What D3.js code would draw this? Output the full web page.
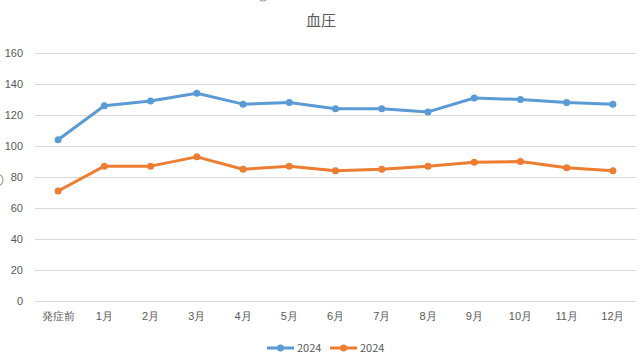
<!DOCTYPE html>
<html lang="ja">
<head>
  <meta charset="UTF-8">
  <title>血圧</title>
  <script src="https://d3js.org/d3.v7.min.js"></script>
  <style>
    body { margin: 0; background: #fff; }
    svg { display: block; font-family: "Noto Sans CJK JP", "Noto Sans", sans-serif; }
    .tick text { fill: #595959; font-size: 11px; }
  </style>
</head>
<body>
  <svg width="642" height="361"></svg>
  <script>
    const width = 642, height = 361;
    const months = ["発症前", "1月", "2月", "3月", "4月", "5月", "6月", "7月", "8月", "9月", "10月", "11月", "12月"];
    const systolic = [104, 126, 129, 134, 127, 128, 124, 124, 122, 131, 130, 128, 127];
    const diastolic = [71, 87, 87, 93, 85, 87, 84, 85, 87, 89.5, 90, 86, 84];
    const yTicks = [0, 20, 40, 60, 80, 100, 120, 140, 160];
    const seriesNames = ["2024", "2024"];
    const colors = ["#5B9BD5", "#ED7D31"];

    const svg = d3.select("svg");
    const margin = { left: 35, right: 6, top: 53, bottom: 60 };

    const x = d3.scaleBand()
      .domain(months)
      .range([margin.left, width - margin.right]);
    const y = d3.scaleLinear()
      .domain([0, 160])
      .range([height - margin.bottom, margin.top]);

    // gridlines
    svg.append("g")
      .selectAll("line")
      .data(yTicks)
      .join("line")
      .attr("x1", margin.left)
      .attr("x2", width - margin.right)
      .attr("y1", d => y(d) + 0.5)
      .attr("y2", d => y(d) + 0.5)
      .attr("stroke", "#D9D9D9")
      .attr("stroke-width", 1);

    // y axis labels
    const yAxis = svg.append("g")
      .attr("transform", `translate(${margin.left},0)`)
      .call(d3.axisLeft(y).tickValues(yTicks).tickSize(0).tickPadding(12));
    yAxis.select(".domain").remove();

    // x axis labels
    const xAxis = svg.append("g")
      .attr("transform", `translate(0,${y(0)})`)
      .call(d3.axisBottom(x).tickSize(0).tickPadding(11));
    xAxis.select(".domain").remove();

    // title
    svg.append("text")
      .attr("x", width / 2)
      .attr("y", 26)
      .attr("text-anchor", "middle")
      .attr("fill", "#595959")
      .attr("font-size", "15px")
      .text("血圧");

    const line = d3.line()
      .x((d, i) => x(months[i]) + x.bandwidth() / 2)
      .y(d => y(d));

    [systolic, diastolic].forEach((vals, k) => {
      svg.append("path")
        .datum(vals)
        .attr("fill", "none")
        .attr("stroke", colors[k])
        .attr("stroke-width", 3)
        .attr("stroke-linejoin", "round")
        .attr("d", line);
      svg.append("g")
        .selectAll("circle")
        .data(vals)
        .join("circle")
        .attr("cx", (d, i) => x(months[i]) + x.bandwidth() / 2)
        .attr("cy", d => y(d))
        .attr("r", 3.5)
        .attr("fill", colors[k]);
    });

    // legend
    const legendX = [267, 330];
    seriesNames.forEach((name, k) => {
      const g = svg.append("g").attr("transform", `translate(${legendX[k]},348)`);
      g.append("line")
        .attr("x1", 0).attr("x2", 27)
        .attr("stroke", colors[k]).attr("stroke-width", 3);
      g.append("circle").attr("cx", 13.5).attr("r", 3.5).attr("fill", colors[k]);
      g.append("text")
        .attr("x", 30).attr("y", 4)
        .attr("fill", "#595959")
        .attr("font-size", "11px")
        .text(name);
    });

    // selection handle remnants at the edges
    svg.append("circle").attr("cx", -3).attr("cy", 180).attr("r", 6)
      .attr("fill", "none").attr("stroke", "#A6A6A6").attr("stroke-width", 1.2);
    svg.append("circle").attr("cx", 263).attr("cy", -4).attr("r", 5)
      .attr("fill", "none").attr("stroke", "#A6A6A6").attr("stroke-width", 1.2);
  </script>
</body>
</html>
